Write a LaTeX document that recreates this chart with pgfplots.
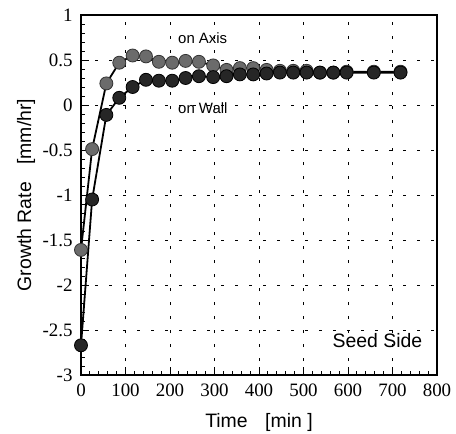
\documentclass[border=0pt]{standalone}
\usepackage{pgfplots}
\pgfplotsset{compat=1.18}
\usepackage{fontspec}
\setmainfont{Liberation Serif}
\setsansfont{Liberation Sans}
\begin{document}
\begin{tikzpicture}
\begin{axis}[
  scale only axis, width=356bp, height=360bp,
  xmin=0, xmax=800, ymin=-3, ymax=1,
  xtick={0,100,...,800}, ytick={-3,-2.5,...,1},
  minor x tick num=4, minor y tick num=4,
  tick align=inside, xtick pos=bottom, ytick pos=left,
  major tick length=8bp, minor tick length=4bp,
  grid=major,
  major grid style={black, line width=0.8bp, dash pattern=on 3bp off 11bp},
  axis line style={line width=1.3bp},
  every tick/.style={black, line width=1bp},
  tick label style={font=\rmfamily\fontsize{19}{20}\selectfont, /pgf/number format/assume math mode=true},
  xticklabel style={yshift=-5bp},
  yticklabel style={xshift=-5bp, /pgf/number format/fixed, /pgf/number format/precision=1},
  xlabel={\sffamily Time\hspace{0.9em}[min ]},
  ylabel={\sffamily Growth Rate\hspace{0.9em}[mm/hr]},
  xlabel style={font=\sffamily\fontsize{19.5}{20}\selectfont, at={(axis description cs:0.5,0)}, anchor=base, yshift=-52bp},
  ylabel style={font=\sffamily\fontsize{19.5}{20}\selectfont, at={(axis description cs:0,0.5)}, anchor=center, rotate=0, yshift=55bp},
  clip=false,
]
\addplot[black, line width=1.8bp, mark=*, mark size=6.5bp,
  mark options={fill=black!58, draw=black!80, line width=0.8bp}] coordinates {
(0,-1.61) (25,-0.49) (57,0.24) (86,0.47) (116,0.55) (146,0.54) (175,0.48)
(205,0.47) (235,0.49) (265,0.48) (297,0.44) (327,0.39) (357,0.41) (387,0.41)
(417,0.39) (447,0.38) (477,0.38) (507,0.38) (537,0.36) (567,0.36) (597,0.37)
(658,0.37) (718,0.37)
};
\addplot[black, line width=1.8bp, mark=*, mark size=6.5bp,
  mark options={fill=black!85, draw=black, line width=0.8bp}] coordinates {
(0,-2.67) (25,-1.05) (57,-0.11) (86,0.08) (116,0.20) (146,0.28) (175,0.27)
(205,0.27) (235,0.30) (265,0.32) (297,0.31) (327,0.32) (357,0.34) (387,0.34)
(417,0.35) (447,0.36) (477,0.36) (507,0.36) (537,0.36) (567,0.36) (597,0.36)
(658,0.36) (718,0.36)
};
\node[anchor=west, inner sep=0pt, font=\sffamily\fontsize{15}{16}\selectfont] at (axis cs:218,0.745) {on Axis};
\node[anchor=west, inner sep=0pt, font=\sffamily\fontsize{15}{16}\selectfont] at (axis cs:218,-0.03) {on Wall};
\node[anchor=west, inner sep=0pt, font=\sffamily\fontsize{19.5}{20}\selectfont] at (axis cs:565,-2.62) {Seed Side};
\end{axis}
\pgfresetboundingbox
\path ([shift={(-81bp,-58bp)}]current axis.south west) rectangle ([shift={(19bp,15bp)}]current axis.north east);
\end{tikzpicture}
\end{document}
